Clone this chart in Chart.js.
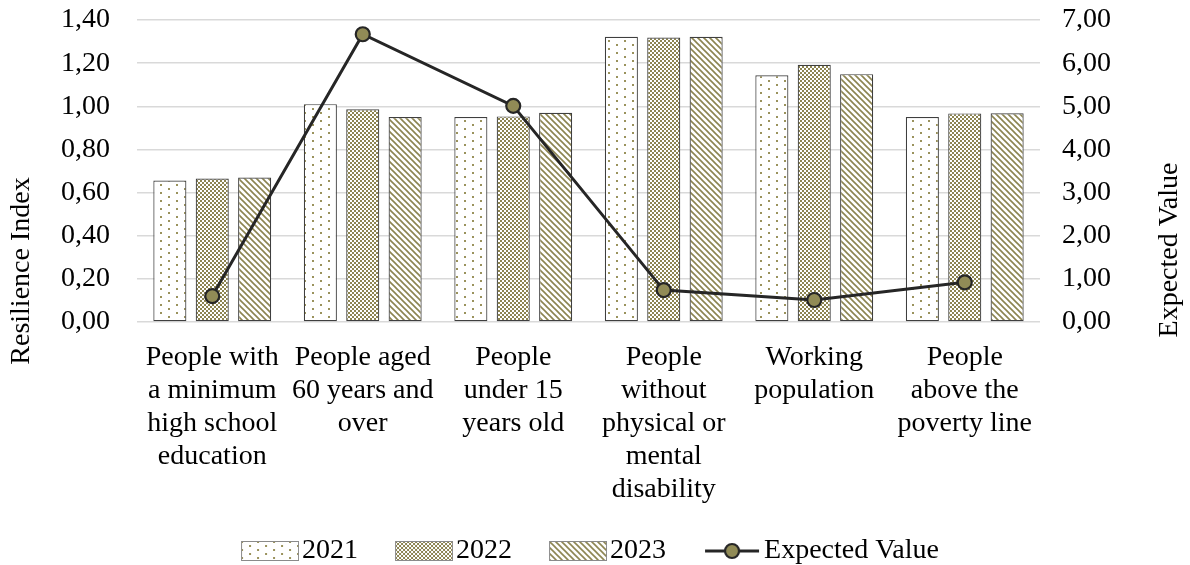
<!DOCTYPE html>
<html>
<head>
<meta charset="utf-8">
<script src="https://cdn.jsdelivr.net/npm/chart.js@4/dist/chart.umd.min.js"></script>
<style>
  html, body { margin: 0; padding: 0; background: #ffffff; }
  #wrap { width: 1190px; height: 565px; position: relative; }
</style>
</head>
<body>
<div id="wrap"><canvas id="chart"></canvas></div>
<script>
// Population groups (one category per group, wrapped over several lines)
const categories = [
  ['People with', 'a minimum', 'high school', 'education'],
  ['People aged', '60 years and', 'over'],
  ['People', 'under 15', 'years old'],
  ['People', 'without', 'physical or', 'mental', 'disability'],
  ['Working', 'population'],
  ['People', 'above the', 'poverty line']
];

// Resilience index per year
const index2021 = [0.656, 1.010, 0.950, 1.322, 1.144, 0.950];
const index2022 = [0.665, 0.986, 0.953, 1.319, 1.192, 0.967];
const index2023 = [0.670, 0.950, 0.970, 1.322, 1.149, 0.968];

// Expected value (right axis)
const expectedValue = [0.60, 6.67, 5.01, 0.74, 0.51, 0.92];

const leftTicks = { min: 0, max: 1.4, step: 0.2 };
const rightTicks = { min: 0, max: 7, step: 1 };

const FONT = '"Liberation Serif", "Times New Roman", serif';
const FONT_SIZE = 28;
const OLIVE = '#8c8450';
const MARKER = '#918b56';
const EDGE = '#3f3f3f';

function tile(w, h, paint) {
  const c = document.createElement('canvas');
  c.width = w; c.height = h;
  const g = c.getContext('2d');
  g.fillStyle = '#ffffff';
  g.fillRect(0, 0, w, h);
  paint(g);
  return c;
}

// Sparse dots
const dotTile = tile(16, 8, g => {
  g.fillStyle = '#9a925c';
  g.fillRect(0, 0, 2, 2);
  g.fillRect(8, 4, 2, 2);
});
// Small checkerboard
const checkTile = tile(4, 4, g => {
  g.fillStyle = OLIVE;
  g.fillRect(0, 0, 2, 2);
  g.fillRect(2, 2, 2, 2);
});
// Downward diagonal stripes
const stripeTile = tile(6, 6, g => {
  g.strokeStyle = OLIVE;
  g.lineWidth = 1.6;
  g.beginPath();
  g.moveTo(-1, -1); g.lineTo(7, 7);
  g.moveTo(-7, -1); g.lineTo(1, 7);
  g.moveTo(5, -1); g.lineTo(13, 7);
  g.stroke();
});

const ctx = document.getElementById('chart').getContext('2d');
const dotPattern = ctx.createPattern(dotTile, 'repeat');
const checkPattern = ctx.createPattern(checkTile, 'repeat');
const stripePattern = ctx.createPattern(stripeTile, 'repeat');

// Legend keys: a 58x20 key drawn at the right end of the point-style strip,
// so the text follows the key closely.
const KEY_STRIP = 50;          // pointStyleWidth used by the legend
const KEY_CANVAS = KEY_STRIP + 22;
function keyCanvas(paint) {
  const c = document.createElement('canvas');
  c.width = KEY_CANVAS; c.height = 20;
  const g = c.getContext('2d');
  g.translate(KEY_CANVAS - 58, 0);
  paint(g);
  return c;
}
function swatch(pattern) {
  return keyCanvas(g => {
    g.fillStyle = g.createPattern(pattern, 'repeat');
    g.fillRect(1, 1, 56, 18);
    g.strokeStyle = '#8a8a8a';
    g.lineWidth = 1;
    g.strokeRect(0.5, 0.5, 57, 19);
  });
}
function lineSwatch() {
  return keyCanvas(g => {
    g.strokeStyle = '#262626';
    g.lineWidth = 3;
    g.beginPath(); g.moveTo(2, 10); g.lineTo(56, 10); g.stroke();
    g.fillStyle = MARKER;
    g.lineWidth = 2.2;
    g.beginPath(); g.arc(29, 10, 7, 0, Math.PI * 2); g.fill(); g.stroke();
  });
}
const legendIcons = [swatch(dotTile), swatch(checkTile), swatch(stripeTile), lineSwatch()];

const fmt = v => v.toFixed(2).replace('.', ',');

// Rotated axis titles
const axisTitles = {
  id: 'axisTitles',
  afterDraw(chart) {
    const c = chart.ctx;
    c.save();
    c.fillStyle = '#000000';
    c.font = FONT_SIZE + 'px ' + FONT;
    c.textAlign = 'center';
    c.textBaseline = 'middle';
    [['Resilience Index', 22, 271], ['Expected Value', 1170, 250]].forEach(([t, x, y]) => {
      c.save();
      c.translate(x, y);
      c.rotate(-Math.PI / 2);
      c.fillText(t, 0, 0);
      c.restore();
    });
    c.restore();
  }
};

const barStyle = {
  borderColor: EDGE,
  borderWidth: 1.2,
  borderSkipped: false,
  categoryPercentage: 0.845,
  barPercentage: 0.78,
  yAxisID: 'y',
  order: 2
};

new Chart(ctx, {
  data: {
    labels: categories,
    datasets: [
      Object.assign({ type: 'bar', label: '2021', data: index2021, backgroundColor: dotPattern }, barStyle),
      Object.assign({ type: 'bar', label: '2022', data: index2022, backgroundColor: checkPattern }, barStyle),
      Object.assign({ type: 'bar', label: '2023', data: index2023, backgroundColor: stripePattern }, barStyle),
      {
        type: 'line',
        label: 'Expected Value',
        data: expectedValue,
        yAxisID: 'y1',
        borderColor: '#262626',
        borderWidth: 3,
        pointRadius: 7,
        pointHoverRadius: 7,
        pointBackgroundColor: MARKER,
        pointBorderColor: '#262626',
        pointBorderWidth: 2.2,
        tension: 0,
        order: 1
      }
    ]
  },
  options: {
    responsive: true,
    maintainAspectRatio: false,
    animation: false,
    layout: { padding: { top: 20, left: 0, right: 0, bottom: -10 } },
    plugins: {
      tooltip: { enabled: false },
      legend: {
        position: 'bottom',
        fullSize: false,
        labels: {
          font: { family: FONT, size: FONT_SIZE },
          color: '#000000',
          usePointStyle: true,
          pointStyleWidth: KEY_STRIP,
          padding: 34,
          generateLabels(chart) {
            return chart.data.datasets.map((ds, i) => ({
              text: ds.label,
              pointStyle: legendIcons[i],
              fillStyle: 'transparent',
              strokeStyle: 'transparent',
              lineWidth: 0,
              hidden: false,
              datasetIndex: i
            }));
          }
        }
      }
    },
    scales: {
      x: {
        grid: { display: false },
        border: { display: false },
        ticks: {
          color: '#000000',
          font: { family: FONT, size: FONT_SIZE, lineHeight: 33 / FONT_SIZE },
          maxRotation: 0,
          autoSkip: false,
          padding: 11
        },
        afterFit(s) { s.height = 181; }
      },
      y: {
        position: 'left',
        min: leftTicks.min,
        max: leftTicks.max,
        grid: { color: '#d9d9d9', lineWidth: 1.5, drawTicks: true, tickLength: 27, tickColor: 'rgba(0,0,0,0)' },
        border: { display: false },
        ticks: {
          stepSize: leftTicks.step,
          autoSkip: false,
          color: '#000000',
          font: { family: FONT, size: FONT_SIZE },
          padding: 0,
          callback: v => fmt(v)
        },
        afterFit(s) { s.width = 137; }
      },
      y1: {
        position: 'right',
        min: rightTicks.min,
        max: rightTicks.max,
        grid: { drawOnChartArea: false, drawTicks: true, tickLength: 22, tickColor: 'rgba(0,0,0,0)' },
        border: { display: false },
        ticks: {
          stepSize: rightTicks.step,
          autoSkip: false,
          color: '#000000',
          font: { family: FONT, size: FONT_SIZE },
          padding: 0,
          callback: v => fmt(v)
        },
        afterFit(s) { s.width = 150; }
      }
    }
  },
  plugins: [axisTitles]
});
</script>
</body>
</html>
